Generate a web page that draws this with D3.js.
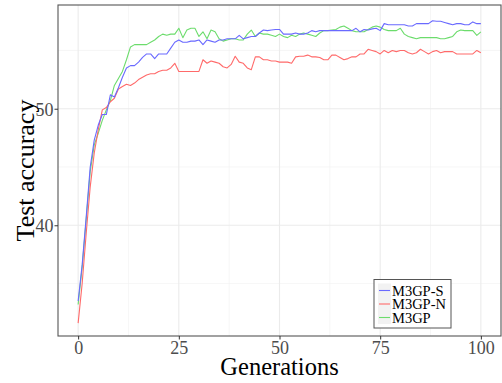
<!DOCTYPE html>
<html>
<head>
<meta charset="utf-8">
<script src="https://cdn.jsdelivr.net/npm/d3@7"></script>
<style>
  html, body { margin: 0; padding: 0; background: #fff; }
  svg { display: block; }
  text { font-family: "Liberation Serif", "DejaVu Serif", serif; }
</style>
</head>
<body>
<svg id="chart" width="502" height="383"></svg>
<script>
// ---- data ----
const generations = d3.range(0, 101);
const seriesNames = ["M3GP-S", "M3GP-N", "M3GP"];
const m3gpS = [
  33.5, 36.6, 40.7, 45.0, 47.3, 48.6, 49.5, 49.5, 51.2, 51.0,
  51.8, 52.7, 53.5, 53.7, 53.7, 54.0, 54.4, 54.7, 54.7, 54.3,
  54.7, 54.7, 54.7, 55.2, 55.7, 55.9, 55.7, 55.7, 55.8, 55.8,
  55.9, 55.5, 55.9, 55.8, 55.7, 55.9, 55.9, 56.0, 56.0, 56.0,
  56.3, 56.0, 56.1, 56.2, 56.2, 56.5, 56.75, 56.7, 56.75, 56.8,
  56.8, 56.4, 56.4, 56.4, 56.5, 56.4, 56.4, 56.5, 56.7, 56.6,
  56.7, 56.7, 56.7, 56.7, 56.7, 56.7, 56.7, 56.7, 56.7, 56.9,
  56.6, 56.8, 56.75, 56.85, 56.9, 56.7, 57.3, 57.2, 57.2, 57.2,
  57.2, 57.2, 57.1, 57.1, 57.3, 57.3, 57.3, 57.3, 57.55, 57.5,
  57.5, 57.4, 57.3, 57.2, 57.3, 57.3, 57.2, 57.2, 57.45, 57.3,
  57.3
];
const m3gpN = [
  31.6, 35.0, 39.3, 43.3, 46.2, 48.2, 49.9, 50.1, 50.6, 50.9,
  51.7, 51.9, 52.1, 52.0, 52.2, 52.5, 52.7, 52.9, 53.0, 53.0,
  53.2, 53.3, 53.3, 53.5, 53.9, 53.2, 53.2, 53.2, 53.2, 53.2,
  53.2, 54.2, 53.9, 54.1, 54.0, 53.9, 53.6, 53.5, 53.8, 54.5,
  54.0, 53.9, 53.5, 53.35, 54.45, 54.45, 54.2, 54.2, 54.1, 54.1,
  54.0, 54.0, 54.0, 53.9, 54.45, 54.5, 54.5, 54.6, 54.45, 54.45,
  54.4, 54.2, 54.2, 54.6, 54.6, 54.4, 54.2, 54.3, 54.45, 54.45,
  54.7, 54.7, 55.1, 55.0, 54.9, 54.7, 55.0, 54.8, 55.0, 54.9,
  55.0, 55.0, 54.8, 54.7, 54.8, 55.1, 54.9, 54.7, 54.9, 55.0,
  54.8, 54.9, 54.9, 54.9, 54.7, 54.7, 54.7, 54.7, 54.7, 55.0,
  54.8
];
const m3gp = [
  33.2, 36.4, 40.5, 44.6, 46.9, 47.9, 49.0, 49.9, 50.7, 52.0,
  52.6, 53.2, 54.2, 55.3, 55.5, 55.5, 55.5, 55.5, 55.7, 55.9,
  56.2, 56.4, 56.3, 56.4, 56.4, 56.9, 56.1, 56.75, 56.9, 56.9,
  56.2, 56.6, 56.0, 56.75, 56.6, 56.0, 55.8, 55.9, 56.0, 56.0,
  55.9, 55.9, 56.4, 56.75, 56.2, 56.5, 56.4, 56.4, 56.3, 56.2,
  56.4, 56.2, 56.1, 56.3, 56.2, 56.4, 56.5, 56.4, 56.3, 56.2,
  56.5, 56.7, 56.7, 56.75, 56.8, 57.0, 57.1, 56.9, 56.7, 56.6,
  56.6, 56.6, 56.8, 57.0, 57.1, 57.0, 56.8, 56.7, 56.7, 56.7,
  56.9, 56.4, 56.2, 56.1, 56.0, 56.1, 56.1, 56.1, 56.1, 56.1,
  56.0, 56.0, 56.1, 56.2, 56.6, 56.75, 56.7, 56.7, 56.7, 56.3,
  56.6
];
const xTicks = [0, 25, 50, 75, 100];
const xMinor = [12.5, 37.5, 62.5, 87.5];
const yTicks = [40, 50];
const yMinor = [35, 45, 55];
const xTitle = "Generations";
const yTitle = "Test accuracy";

// ---- layout ----
const svg = d3.select("#chart");
const L = 58, R = 501, T = 5, B = 336;
const x = d3.scaleLinear().domain([-5, 105]).range([L, R]);
const y = d3.scaleLinear().domain([30.5, 58.9]).range([B, T]);

const colors = { "M3GP-S": "#6a6aff", "M3GP-N": "#ff6a6a", "M3GP": "#6cdc6c" };
const seriesData = { "M3GP-S": m3gpS, "M3GP-N": m3gpN, "M3GP": m3gp };

// grid
const g = svg.append("g");
g.selectAll(".xmin").data(xMinor).join("line")
  .attr("x1", d => x(d)).attr("x2", d => x(d)).attr("y1", T).attr("y2", B)
  .attr("stroke", "#f0f0f0").attr("stroke-width", 0.6);
g.selectAll(".ymin").data(yMinor).join("line")
  .attr("y1", d => y(d)).attr("y2", d => y(d)).attr("x1", L).attr("x2", R)
  .attr("stroke", "#f0f0f0").attr("stroke-width", 0.6);
g.selectAll(".xmaj").data(xTicks).join("line")
  .attr("x1", d => x(d)).attr("x2", d => x(d)).attr("y1", T).attr("y2", B)
  .attr("stroke", "#ebebeb").attr("stroke-width", 1.1);
g.selectAll(".ymaj").data(yTicks).join("line")
  .attr("y1", d => y(d)).attr("y2", d => y(d)).attr("x1", L).attr("x2", R)
  .attr("stroke", "#ebebeb").attr("stroke-width", 1.1);

// lines
const line = d3.line().x((d, i) => x(generations[i])).y(d => y(d));
["M3GP", "M3GP-N", "M3GP-S"].forEach(name => {
  svg.append("path").datum(seriesData[name])
    .attr("fill", "none").attr("stroke", colors[name])
    .attr("stroke-width", 1.1).attr("stroke-linejoin", "round")
    .attr("d", line);
});

// panel border
svg.append("rect").attr("x", L).attr("y", T).attr("width", R - L).attr("height", B - T)
  .attr("fill", "none").attr("stroke", "#555").attr("stroke-width", 1.1);

// axes
const xAxis = d3.axisBottom(x).tickValues(xTicks).tickSize(3.5).tickPadding(2);
const yAxis = d3.axisLeft(y).tickValues(yTicks).tickSize(3.5).tickPadding(1);
const gx = svg.append("g").attr("transform", `translate(0,${B})`).call(xAxis);
const gy = svg.append("g").attr("transform", `translate(${L},0)`).call(yAxis);
[gx, gy].forEach(a => {
  a.select(".domain").remove();
  a.selectAll(".tick line").attr("stroke", "#333");
  a.selectAll(".tick text").attr("fill", "#4d4d4d")
    .style("font-family", "'Liberation Serif', serif").style("font-size", "18px");
});
gy.selectAll(".tick text").attr("dy", "0.36em");

// axis titles
svg.append("text").attr("x", (L + R) / 2).attr("y", 375)
  .attr("text-anchor", "middle").attr("fill", "#000")
  .style("font-size", "24.5px").text(xTitle);
svg.append("text").attr("transform", `translate(33.5,${(T + B) / 2}) rotate(-90)`)
  .attr("text-anchor", "middle").attr("fill", "#000")
  .style("font-size", "26px").text(yTitle);

// legend
const lg = svg.append("g");
lg.append("rect").attr("x", 374).attr("y", 279.5).attr("width", 77).attr("height", 48.5)
  .attr("fill", "#fff").attr("stroke", "#555").attr("stroke-width", 1);
const rowY = [290.5, 304, 317.5];
lg.append("rect").attr("x", 378).attr("y", 283.5).attr("width", 13).attr("height", 40.5)
  .attr("fill", "#f2f2f2");
seriesNames.forEach((name, i) => {
  lg.append("line").attr("x1", 379).attr("x2", 390).attr("y1", rowY[i]).attr("y2", rowY[i])
    .attr("stroke", colors[name]).attr("stroke-width", 1.1);
  lg.append("text").attr("x", 392).attr("y", rowY[i]).attr("dy", "0.35em")
    .attr("fill", "#000").style("font-size", "14.5px").text(name);
});
</script>
</body>
</html>
